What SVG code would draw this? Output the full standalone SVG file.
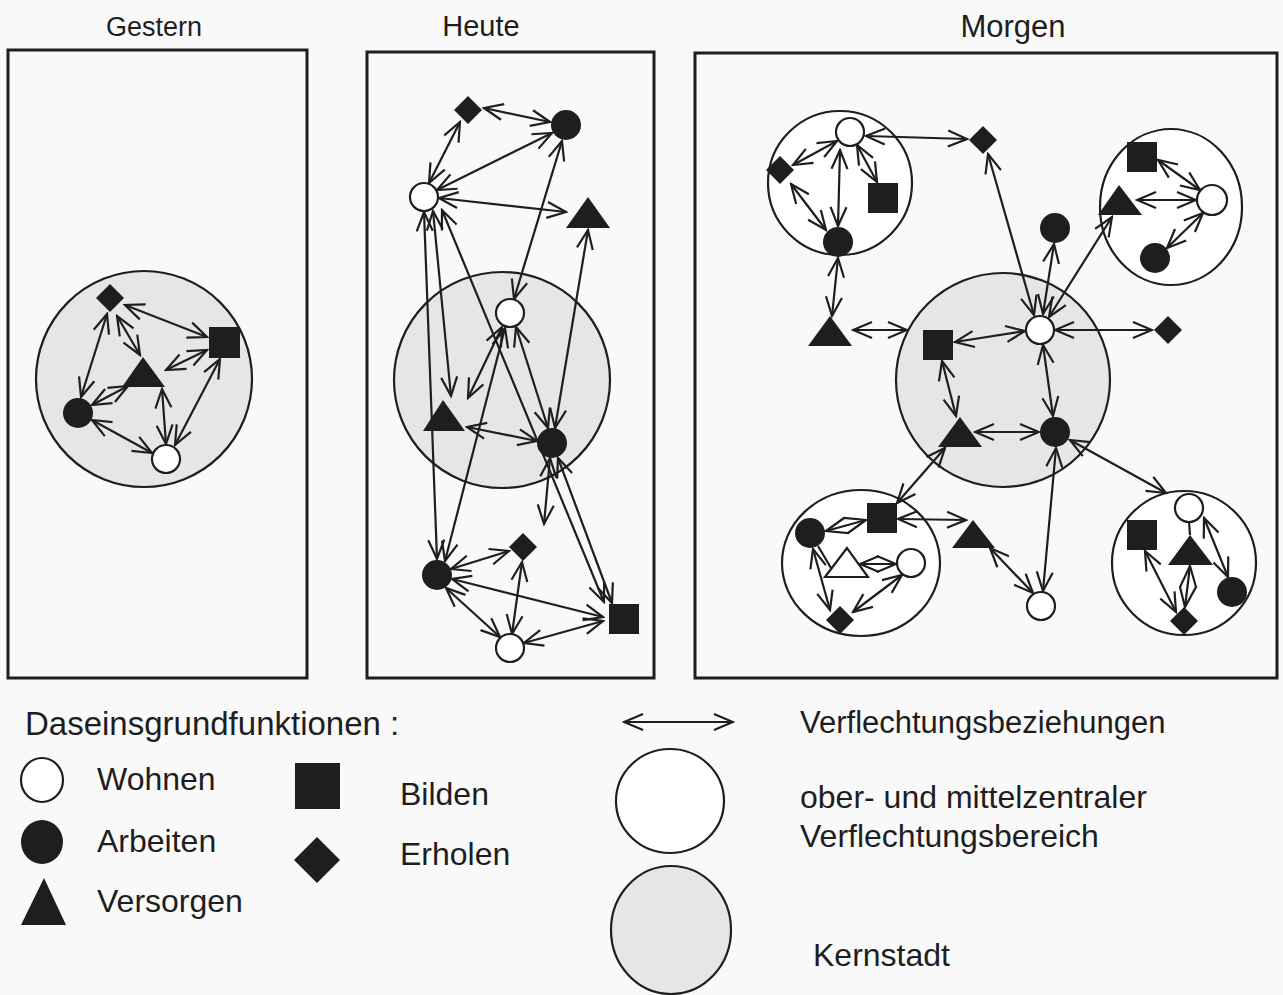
<svg xmlns="http://www.w3.org/2000/svg" width="1283" height="995" viewBox="0 0 1283 995">
<style>
text{font-family:"Liberation Sans",Arial,sans-serif;fill:#1e1e1e}
.t{font-size:29px}
.l{font-size:32px}
.panel{fill:none;stroke:#1e1e1e;stroke-width:3}
.ks{fill:#e6e6e6;stroke:#1e1e1e;stroke-width:2.2}
.vb{fill:#fff;stroke:#1e1e1e;stroke-width:2.2}
.oc{fill:#fff;stroke:#1e1e1e;stroke-width:2.2}
.f{fill:#1e1e1e}
.ot{fill:#fff;stroke:#1e1e1e;stroke-width:2.2}
.c{stroke:#1e1e1e;stroke-width:2.2;fill:none;marker-start:url(#ah);marker-end:url(#ah)}
.p{stroke:#1e1e1e;stroke-width:2.2;fill:none}
</style>
<defs>
<marker id="ah" viewBox="0 0 22 20" refX="20" refY="10" markerWidth="22" markerHeight="20" markerUnits="userSpaceOnUse" orient="auto-start-reverse">
<path d="M1,2 L20,10 L1,18" fill="none" stroke="#1e1e1e" stroke-width="2.2"/>
</marker>
</defs>
<rect width="1283" height="995" fill="#f9f9f9"/>

<g id="titles">
<text class="t" x="154" y="36" text-anchor="middle" style="font-size:27px">Gestern</text>
<text class="t" x="481" y="36" text-anchor="middle">Heute</text>
<text class="t" x="1013" y="37" text-anchor="middle" style="font-size:31px">Morgen</text>
</g>

<g id="panels">
<rect class="panel" x="8" y="50" width="299" height="628"/>
<rect class="panel" x="367" y="52" width="287" height="626"/>
<rect class="panel" x="695" y="53" width="582" height="625"/>
</g>

<g id="areas">
<circle class="ks" cx="144" cy="379" r="108"/>
<circle class="ks" cx="502" cy="380" r="108"/>
<circle class="ks" cx="1003" cy="380" r="107"/>
<circle class="vb" cx="840" cy="183" r="72"/>
<ellipse class="vb" cx="1171" cy="207" rx="71" ry="78"/>
<ellipse class="vb" cx="861" cy="563" rx="79" ry="73"/>
<circle class="vb" cx="1184" cy="563" r="72"/>
</g>

<g id="connectors">
<!-- Gestern -->
<line class="c" x1="125" y1="305" x2="207" y2="337"/>
<line class="c" x1="107" y1="314" x2="81" y2="397"/>
<line class="c" x1="117" y1="316" x2="140" y2="355"/>
<line class="c" x1="207" y1="350" x2="166" y2="370"/>
<line class="c" x1="220" y1="359" x2="175" y2="445"/>
<line class="c" x1="128" y1="386" x2="92" y2="405"/>
<line class="c" x1="162" y1="389" x2="166" y2="444"/>
<line class="c" x1="92" y1="420" x2="152" y2="453"/>
<!-- Heute -->
<line class="c" x1="484" y1="108" x2="550" y2="122"/>
<line class="c" x1="460" y1="122" x2="429" y2="183"/>
<line class="c" x1="552" y1="133" x2="437" y2="190"/>
<line class="c" x1="439" y1="198" x2="566" y2="212"/>
<line class="c" x1="562" y1="141" x2="514" y2="299"/>
<line class="c" x1="588" y1="230" x2="555" y2="428"/>
<line class="c" x1="424" y1="212" x2="437" y2="559"/>
<line class="c" x1="433" y1="211" x2="451" y2="396"/>
<line class="c" x1="442" y1="210" x2="604" y2="602"/>
<line class="c" x1="502" y1="327" x2="468" y2="398"/>
<line class="c" x1="516" y1="327" x2="548" y2="428"/>
<line class="c" x1="505" y1="328" x2="445" y2="561"/>
<line class="c" x1="467" y1="427" x2="537" y2="441"/>
<line class="c" x1="558" y1="458" x2="612" y2="603"/>
<line class="c" x1="550" y1="458" x2="544" y2="524"/>
<line class="c" x1="451" y1="569" x2="509" y2="551"/>
<line class="c" x1="452" y1="579" x2="603" y2="617"/>
<line class="c" x1="446" y1="588" x2="500" y2="637"/>
<line class="c" x1="512" y1="634" x2="522" y2="562"/>
<line class="c" x1="524" y1="643" x2="603" y2="621"/>
<!-- Morgen -->
<line class="c" x1="837" y1="141" x2="793" y2="165"/>
<line class="c" x1="857" y1="145" x2="877" y2="182"/>
<line class="c" x1="840" y1="150" x2="838" y2="226"/>
<line class="c" x1="791" y1="184" x2="826" y2="230"/>
<line class="c" x1="866" y1="136" x2="967" y2="139"/>
<line class="c" x1="838" y1="258" x2="832" y2="316"/>
<line class="c" x1="853" y1="330" x2="907" y2="330"/>
<line class="c" x1="955" y1="342" x2="1025" y2="331"/>
<line class="c" x1="942" y1="361" x2="956" y2="416"/>
<line class="c" x1="1043" y1="345" x2="1053" y2="416"/>
<line class="c" x1="1039" y1="432" x2="975" y2="432"/>
<line class="c" x1="1055" y1="330" x2="1152" y2="330"/>
<line class="c" x1="988" y1="154" x2="1034" y2="315"/>
<line class="c" x1="1054" y1="244" x2="1043" y2="314"/>
<line class="c" x1="1112" y1="217" x2="1049" y2="317"/>
<line class="c" x1="1158" y1="160" x2="1200" y2="190"/>
<line class="c" x1="1137" y1="200" x2="1196" y2="200"/>
<line class="c" x1="1203" y1="213" x2="1167" y2="248"/>
<line class="c" x1="945" y1="448" x2="897" y2="503"/>
<line class="p" x1="826" y1="531" x2="866" y2="520"/>
<polygon class="p" points="826,531 844,518 866,520 848,533"/>
<line class="c" x1="898" y1="519" x2="966" y2="520"/>
<line class="c" x1="813" y1="549" x2="830" y2="610"/>
<line class="p" x1="818" y1="546" x2="831" y2="568"/>
<line class="c" x1="860" y1="564" x2="896" y2="564"/>
<line class="c" x1="902" y1="575" x2="853" y2="612"/>
<line class="c" x1="990" y1="548" x2="1033" y2="593"/>
<line class="c" x1="1056" y1="448" x2="1043" y2="591"/>
<line class="c" x1="1070" y1="440" x2="1166" y2="493"/>
<line class="p" x1="1189" y1="522" x2="1190" y2="535"/>
<line class="c" x1="1204" y1="518" x2="1228" y2="577"/>
<line class="c" x1="1145" y1="551" x2="1176" y2="612"/>
<line class="p" x1="1190" y1="566" x2="1185" y2="607"/>
<polygon class="p" points="1190,566 1180,587 1185,607 1196,587"/>
</g>

<!-- Gestern nodes -->
<g id="g-erholen"><polygon class="f" points="110,284 124,298 110,312 96,298"/></g>
<g id="g-bilden"><rect class="f" x="209" y="327" width="31" height="31"/></g>
<g id="g-versorgen"><polygon class="f" points="143,357 122,387 165,387"/></g>
<g id="g-arbeiten"><circle class="f" cx="78" cy="413" r="15"/></g>
<g id="g-wohnen"><circle class="oc" cx="166" cy="459" r="14"/></g>

<!-- Heute nodes -->
<g id="h-erholen1"><polygon class="f" points="468,96 482,110 468,124 454,110"/></g>
<g id="h-arbeiten1"><circle class="f" cx="566" cy="125" r="15"/></g>
<g id="h-wohnen1"><circle class="oc" cx="424" cy="197" r="14"/></g>
<g id="h-versorgen1"><polygon class="f" points="588,197 566,228 610,228"/></g>
<g id="h-wohnen2"><circle class="oc" cx="510" cy="313" r="14"/></g>
<g id="h-versorgen2"><polygon class="f" points="443,400 423,431 465,431"/></g>
<g id="h-arbeiten2"><circle class="f" cx="552" cy="443" r="15"/></g>
<g id="h-arbeiten3"><circle class="f" cx="437" cy="575" r="15"/></g>
<g id="h-erholen2"><polygon class="f" points="523,533 537,547 523,561 509,547"/></g>
<g id="h-wohnen3"><circle class="oc" cx="510" cy="648" r="14"/></g>
<g id="h-bilden"><rect class="f" x="609" y="604" width="30" height="30"/></g>

<!-- Morgen nodes -->
<g id="m-wohnen1"><circle class="oc" cx="850" cy="132" r="14"/></g>
<g id="m-erholen1"><polygon class="f" points="780,156 794,170 780,184 766,170"/></g>
<g id="m-bilden1"><rect class="f" x="868" y="183" width="30" height="30"/></g>
<g id="m-arbeiten1"><circle class="f" cx="838" cy="242" r="15"/></g>
<g id="m-erholen2"><polygon class="f" points="983,126 997,140 983,154 969,140"/></g>
<g id="m-versorgen1"><polygon class="f" points="830,316 808,346 852,346"/></g>
<g id="m-bilden2"><rect class="f" x="923" y="330" width="30" height="30"/></g>
<g id="m-wohnen2"><circle class="oc" cx="1040" cy="330" r="14"/></g>
<g id="m-versorgen2"><polygon class="f" points="960,417 938,447 982,447"/></g>
<g id="m-arbeiten2"><circle class="f" cx="1055" cy="432" r="15"/></g>
<g id="m-erholen3"><polygon class="f" points="1168,316 1182,330 1168,344 1154,330"/></g>
<g id="m-arbeiten3"><circle class="f" cx="1055" cy="228" r="15"/></g>
<g id="m-bilden3"><rect class="f" x="1127" y="142" width="30" height="30"/></g>
<g id="m-versorgen3"><polygon class="f" points="1119,185 1098,215 1142,215"/></g>
<g id="m-wohnen3"><circle class="oc" cx="1212" cy="200" r="15"/></g>
<g id="m-arbeiten4"><circle class="f" cx="1155" cy="258" r="15"/></g>
<g id="m-bilden4"><rect class="f" x="867" y="503" width="30" height="30"/></g>
<g id="m-arbeiten5"><circle class="f" cx="810" cy="533" r="15"/></g>
<g id="m-versorgen4"><polygon class="ot" points="847,548 825,577 868,577"/></g>
<g id="m-wohnen4"><circle class="oc" cx="911" cy="563" r="14"/></g>
<g id="m-erholen4"><polygon class="f" points="840,606 854,620 840,634 826,620"/></g>
<g id="m-versorgen5"><polygon class="f" points="973,520 952,548 995,548"/></g>
<g id="m-wohnen5"><circle class="oc" cx="1041" cy="606" r="14"/></g>
<g id="m-wohnen6"><circle class="oc" cx="1189" cy="508" r="14"/></g>
<g id="m-bilden5"><rect class="f" x="1127" y="520" width="30" height="30"/></g>
<g id="m-versorgen6"><polygon class="f" points="1190,535 1168,565 1213,565"/></g>
<g id="m-arbeiten6"><circle class="f" cx="1232" cy="592" r="15"/></g>
<g id="m-erholen5"><polygon class="f" points="1184,607 1198,621 1184,635 1170,621"/></g>

<g id="legend">
<text class="l" x="25" y="735" style="font-size:33px">Daseinsgrundfunktionen :</text>
<ellipse class="oc" cx="42" cy="780" rx="21" ry="22"/>
<text class="l" x="97" y="790">Wohnen</text>
<ellipse class="f" cx="42" cy="842" rx="21" ry="22"/>
<text class="l" x="97" y="852">Arbeiten</text>
<polygon class="f" points="44,878 21,925 66,925"/>
<text class="l" x="97" y="912">Versorgen</text>
<rect class="f" x="295" y="763" width="45" height="46"/>
<text class="l" x="400" y="805">Bilden</text>
<polygon class="f" points="317,837 340,860 317,883 294,860"/>
<text class="l" x="400" y="865">Erholen</text>
<line class="c" x1="624" y1="722" x2="733" y2="722"/>
<text class="l" x="800" y="733" style="font-size:31px">Verflechtungsbeziehungen</text>
<ellipse class="vb" cx="670" cy="801" rx="54" ry="52"/>
<text class="l" x="800" y="808">ober- und mittelzentraler</text>
<text class="l" x="800" y="847">Verflechtungsbereich</text>
<ellipse class="ks" cx="671" cy="930" rx="60" ry="64"/>
<text class="l" x="813" y="966">Kernstadt</text>
</g>
</svg>
